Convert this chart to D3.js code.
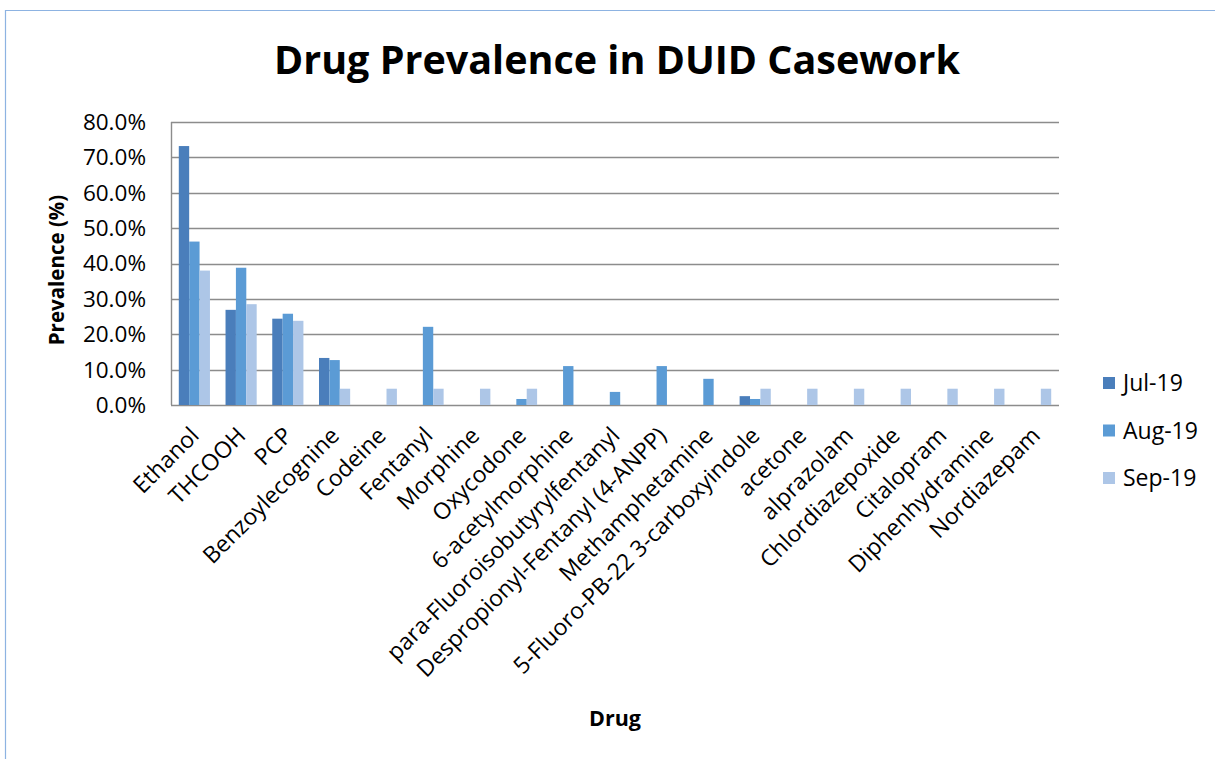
<!DOCTYPE html>
<html>
<head>
<meta charset="utf-8">
<script src="https://cdn.jsdelivr.net/npm/d3@7"></script>
<style>
  body { margin: 0; background: #fff; }
  text { font-family: "Open Sans", "Noto Sans", sans-serif; fill: #000; }
</style>
</head>
<body>
<div id="chart"></div>
<script>
const drugs = ['Ethanol', 'THCOOH', 'PCP', 'Benzoylecognine', 'Codeine', 'Fentanyl', 'Morphine',
  'Oxycodone', '6-acetylmorphine', 'para-Fluoroisobutyrylfentanyl', 'Despropionyl-Fentanyl (4-ANPP)',
  'Methamphetamine', '5-Fluoro-PB-22 3-carboxyindole', 'acetone', 'alprazolam', 'Chlordiazepoxide',
  'Citalopram', 'Diphenhydramine', 'Nordiazepam'];
const months = ['Jul-19', 'Aug-19', 'Sep-19'];
const jul = [73.2, 26.9, 24.4, 13.3, 0, 0, 0, 0, 0, 0, 0, 0, 2.5, 0, 0, 0, 0, 0, 0];
const aug = [46.2, 38.8, 25.8, 12.7, 0, 22.1, 0, 1.7, 11.0, 3.7, 11.0, 7.4, 1.7, 0, 0, 0, 0, 0, 0];
const sep = [38.0, 28.5, 23.8, 4.6, 4.6, 4.6, 4.6, 4.6, 0, 0, 0, 0, 4.6, 4.6, 4.6, 4.6, 4.6, 4.6, 4.6];
const yTicks = [0, 10, 20, 30, 40, 50, 60, 70, 80];
const colors = ['#4A7EBB', '#5B9BD5', '#ADC6E7'];

const W = 1215, H = 759;
const plotL = 171, plotR = 1059, plotT = 122, plotB = 405;
const series = [jul, aug, sep];

const svg = d3.select('#chart').append('svg').attr('width', W).attr('height', H);

// chart frame, only top and left edges fall inside the shot
svg.append('path')
  .attr('d', `M5.5,${H} V10.5 H${W}`)
  .attr('fill', 'none').attr('stroke', '#8DB3E2').attr('stroke-width', 1.2);

const x0 = d3.scaleBand().domain(drugs).range([plotL, plotR]).paddingInner(1 / 3).paddingOuter(1 / 6);
const x1 = d3.scaleBand().domain(months).range([0, x0.bandwidth()]);
const y = d3.scaleLinear().domain([0, 80]).range([plotB, plotT]);

// gridlines
svg.append('g').selectAll('line').data(yTicks).enter().append('line')
  .attr('x1', plotL).attr('x2', plotR)
  .attr('y1', (d) => Math.round(y(d)) + 0.5).attr('y2', (d) => Math.round(y(d)) + 0.5)
  .attr('stroke', '#8C8C8C').attr('stroke-width', 1.6);
svg.append('line')
  .attr('x1', plotL + 0.5).attr('x2', plotL + 0.5).attr('y1', plotT).attr('y2', plotB)
  .attr('stroke', '#8C8C8C').attr('stroke-width', 1.4);

// y tick labels
svg.append('g').selectAll('text').data(yTicks).enter().append('text')
  .attr('x', 146).attr('y', (d) => y(d)).attr('dy', '0.35em')
  .attr('text-anchor', 'end').attr('font-size', 22.5)
  .text((d) => d.toFixed(1) + '%');

// bars
const groups = svg.append('g').selectAll('g').data(drugs).enter().append('g')
  .attr('transform', (d) => `translate(${x0(d)},0)`);
groups.selectAll('rect')
  .data((d, i) => months.map((m, j) => ({ m, v: series[j][i], j })))
  .enter().append('rect')
  .attr('x', (d) => x1(d.m))
  .attr('width', x1.bandwidth())
  .attr('y', (d) => y(d.v))
  .attr('height', (d) => plotB - y(d.v))
  .attr('fill', (d) => colors[d.j]);

// x labels, rotated
svg.append('g').selectAll('text').data(drugs).enter().append('text')
  .attr('transform', (d) => `translate(${x0(d) + x0.bandwidth() / 2 + 6},${plotB + 32}) rotate(-45)`)
  .attr('text-anchor', 'end').attr('font-size', 23)
  .text((d) => d);

// titles
svg.append('text').attr('x', 617).attr('y', 74).attr('text-anchor', 'middle')
  .attr('font-size', 39.5).attr('font-weight', 'bold').text('Drug Prevalence in DUID Casework');
svg.append('text').attr('transform', 'translate(64,270) rotate(-90)').attr('text-anchor', 'middle')
  .attr('font-size', 20.5).attr('font-weight', 'bold').text('Prevalence (%)');
svg.append('text').attr('x', 615).attr('y', 726).attr('text-anchor', 'middle')
  .attr('font-size', 21.5).attr('font-weight', 'bold').text('Drug');

// legend
const leg = svg.append('g').selectAll('g').data(months).enter().append('g')
  .attr('transform', (d, i) => `translate(1103,${383 + i * 47.5})`);
leg.append('rect').attr('x', 0).attr('y', -6).attr('width', 12).attr('height', 12)
  .attr('fill', (d, i) => colors[i]);
leg.append('text').attr('x', 20).attr('dy', '0.35em').attr('font-size', 23).text((d) => d);
</script>
</body>
</html>
